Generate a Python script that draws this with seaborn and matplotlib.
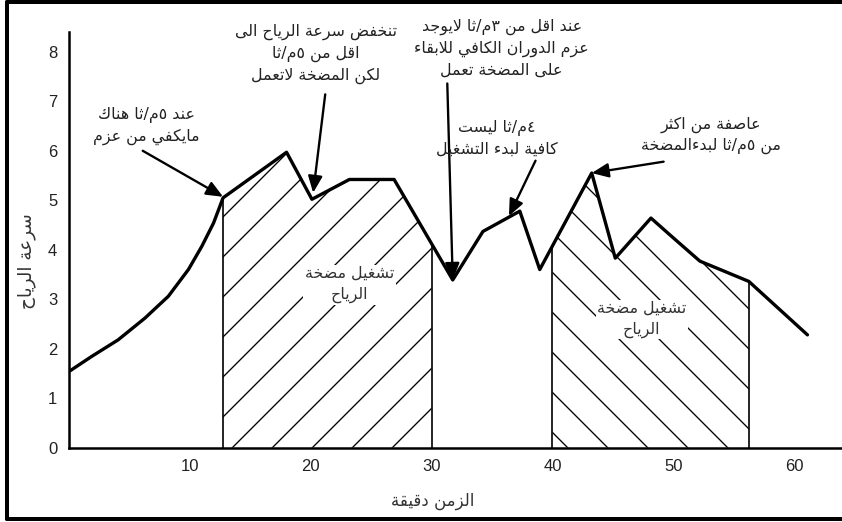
import numpy as np
import pandas as pd
import matplotlib
matplotlib.use("Agg")
import matplotlib.pyplot as plt
from matplotlib.lines import Line2D
import seaborn as sns

# ---------------- data ----------------
time_min = [0.0, 1.85, 4.07, 6.29, 8.22, 9.88, 10.99, 11.96, 12.75, 18.0, 20.1,
            23.2, 26.9, 31.75, 34.25, 37.3, 38.95, 43.25, 45.2, 48.15, 50.0,
            52.2, 56.25, 61.1]
wind_speed = [1.54, 1.84, 2.18, 2.62, 3.06, 3.60, 4.07, 4.54, 5.05, 5.97, 5.02,
              5.42, 5.42, 3.39, 4.37, 4.78, 3.6, 5.55, 3.83, 4.64, 4.24,
              3.77, 3.36, 2.28]

pump_periods = [(12.75, 30.0), (40.0, 56.25)]
pump_hatches = ["/", "\\"]
pump_label = "تشغيل مضخة\nالرياح"
pump_label_pos = [(23.2, 3.3), (47.4, 2.6)]

x_ticks = [10, 20, 30, 40, 50, 60]
y_ticks = [0, 1, 2, 3, 4, 5, 6, 7, 8]
x_label = "الزمن دقيقة"
y_label = "سرعة الرياح"

notes = [
    "عند ٥م/ثا هناك\nمايكفي من عزم",
    "تنخفض سرعة الرياح الى\nاقل من ٥م/ثا\nلكن المضخة لاتعمل",
    "عند اقل من ٣م/ثا لايوجد\nعزم الدوران الكافي للابقاء\nعلى المضخة تعمل",
    "٤م/ثا ليست\nكافية لبدء التشغيل",
    "عاصفة من اكثر\nمن ٥م/ثا لبدءالمضخة",
]
note_text_pos = [(6.4, 6.5), (20.4, 7.96), (35.8, 8.07), (35.4, 6.25), (53.1, 6.31)]
note_tail = [(6.1, 6.0), (21.2, 7.14), (31.3, 7.36), (38.6, 5.8), (49.2, 5.78)]
note_tip = [(12.75, 5.07), (20.2, 5.15), (31.75, 3.39), (36.4, 4.68), (43.25, 5.55)]

# ------------- Arabic shaping (presentation forms + visual order) -------------
_DUAL = {0x626: 0xFE89, 0x628: 0xFE8F, 0x62A: 0xFE95, 0x62B: 0xFE99, 0x62C: 0xFE9D,
         0x62D: 0xFEA1, 0x62E: 0xFEA5, 0x633: 0xFEB1, 0x634: 0xFEB5, 0x635: 0xFEB9,
         0x636: 0xFEBD, 0x637: 0xFEC1, 0x638: 0xFEC5, 0x639: 0xFEC9, 0x63A: 0xFECD,
         0x641: 0xFED1, 0x642: 0xFED5, 0x643: 0xFED9, 0x644: 0xFEDD, 0x645: 0xFEE1,
         0x646: 0xFEE5, 0x647: 0xFEE9, 0x64A: 0xFEF1}
_RIGHT = {0x622: 0xFE81, 0x623: 0xFE83, 0x624: 0xFE85, 0x625: 0xFE87, 0x627: 0xFE8D,
          0x629: 0xFE93, 0x62F: 0xFEA9, 0x630: 0xFEAB, 0x631: 0xFEAD, 0x632: 0xFEAF,
          0x648: 0xFEED, 0x649: 0xFEEF}
_NONE = {0x621: 0xFE80}
_LAMALEF = {0x622: 0xFEF5, 0x623: 0xFEF7, 0x625: 0xFEF9, 0x627: 0xFEFB}


def _shape_line(line):
    units = []
    i = 0
    while i < len(line):
        c = line[i]
        if ord(c) == 0x644 and i + 1 < len(line) and ord(line[i + 1]) in _LAMALEF:
            units.append(("LA", line[i + 1]))
            i += 2
        else:
            units.append(("C", c))
            i += 1

    def joins_next(u):
        return u[0] == "C" and ord(u[1]) in _DUAL

    def joins_prev(u):
        return u[0] == "LA" or (ord(u[1]) in _DUAL or ord(u[1]) in _RIGHT)

    out = []
    for k, u in enumerate(units):
        prev = units[k - 1] if k > 0 else None
        nxt = units[k + 1] if k + 1 < len(units) else None
        jp = prev is not None and joins_next(prev) and joins_prev(u)
        jn = nxt is not None and joins_next(u) and joins_prev(nxt)
        if u[0] == "LA":
            out.append(chr(_LAMALEF[ord(u[1])] + (1 if jp else 0)))
            continue
        o = ord(u[1])
        if o in _DUAL:
            f = 3 if (jp and jn) else 1 if jp else 2 if jn else 0
            out.append(chr(_DUAL[o] + f))
        elif o in _RIGHT:
            out.append(chr(_RIGHT[o] + (1 if jp else 0)))
        elif o in _NONE:
            out.append(chr(_NONE[o]))
        else:
            out.append(u[1])
    return "".join(reversed(out))


def ar(s):
    return "\n".join(_shape_line(l) for l in s.split("\n"))


# ---------------- plotting ----------------
sns.set_theme(style="white")
plt.rcParams["font.family"] = ["Liberation Sans", "DejaVu Sans"]
plt.rcParams["hatch.linewidth"] = 0.8
plt.rcParams["hatch.color"] = "black"

DPI = 120
fig = plt.figure(figsize=(842 / DPI, 522 / DPI), dpi=DPI)
AX_L, AX_B, AX_T = 69, 447.7, 32
ax = fig.add_axes([AX_L / 842, 1 - AX_B / 522, (842 - AX_L) / 842, (AX_B - AX_T) / 522])

df = pd.DataFrame({"t": time_min, "v": wind_speed})
x = np.asarray(time_min)
y = np.asarray(wind_speed)

# hatched pump-operation periods
for (a, b), h in zip(pump_periods, pump_hatches):
    xs = np.concatenate([[a], x[(x > a) & (x < b)], [b]])
    ys = np.interp(xs, x, y)
    ax.fill_between(xs, 0, ys, facecolor="none", edgecolor="black",
                    hatch=h, linewidth=0, zorder=1)
    ax.vlines([a, b], 0, np.interp([a, b], x, y), colors="black",
              linewidth=1.0, zorder=2)

sns.lineplot(data=df, x="t", y="v", sort=False, color="black", linewidth=2.0,
             ax=ax, zorder=3, estimator=None)

for (px, py) in pump_label_pos:
    ax.text(px, py, ar(pump_label), ha="center", va="center", fontsize=9.5,
            color="#333333", linespacing=1.5, family=["DejaVu Sans"], zorder=4,
            bbox=dict(facecolor="white", edgecolor="none", pad=1.0))

for txt, tp, tail, tip in zip(notes, note_text_pos, note_tail, note_tip):
    ax.text(tp[0], tp[1], ar(txt), ha="center", va="center", fontsize=9.5,
            color="#222222", linespacing=1.45, family=["DejaVu Sans"], zorder=5)
    ax.annotate("", xy=tip, xytext=tail,
                arrowprops=dict(arrowstyle="-|>,head_length=0.7,head_width=0.3",
                                color="black", lw=1.4, shrinkA=0, shrinkB=0),
                zorder=5)

ax.set_xlim(0, (842 - AX_L) / 12.086)
ax.set_ylim(0, 8.4)
ax.set_xticks(x_ticks)
ax.set_yticks(y_ticks)
ax.tick_params(axis="both", direction="inout", length=6, width=1.2,
               labelsize=10, colors="black", pad=4, labelcolor="#222222")
for s in ["top", "right"]:
    ax.spines[s].set_visible(False)
for s in ["left", "bottom"]:
    ax.spines[s].set_color("black")
    ax.spines[s].set_linewidth(1.5)

ax.set_xlabel(ar(x_label), fontsize=10, family=["DejaVu Sans"], color="#333333")
ax.set_ylabel(ar(y_label), fontsize=11, family=["DejaVu Sans"], color="#333333")
ax.xaxis.set_label_coords((433 - AX_L) / (842 - AX_L), (AX_B - 492) / (AX_B - AX_T))
ax.yaxis.set_label_coords((36 - AX_L) / (842 - AX_L), (AX_B - 261) / (AX_B - AX_T))
ax.patch.set_alpha(0)

# outer frame (left, top, bottom)
lw = 2.4
fig.add_artist(Line2D([6.5 / 842, 6.5 / 842], [3 / 522, 1 - 2 / 522],
                      transform=fig.transFigure, color="black", lw=lw))
fig.add_artist(Line2D([6.5 / 842, 1], [1 - 2 / 522, 1 - 2 / 522],
                      transform=fig.transFigure, color="black", lw=lw))
fig.add_artist(Line2D([6.5 / 842, 1], [3 / 522, 3 / 522],
                      transform=fig.transFigure, color="black", lw=lw))

fig.savefig("out.png", dpi=DPI, facecolor="white")
